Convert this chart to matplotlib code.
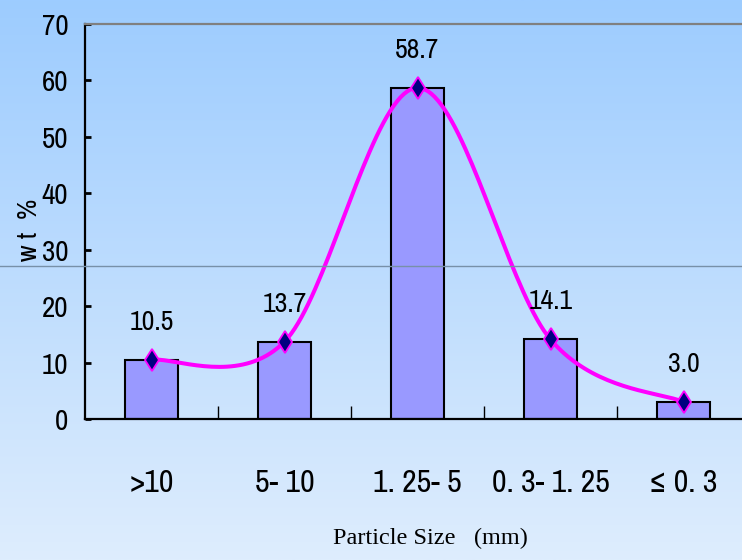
import numpy as np
import matplotlib
matplotlib.use("Agg")
import matplotlib.pyplot as plt
from matplotlib.lines import Line2D

# Particle size distribution
categories = [">10", "5- 10", "1. 25- 5", "0. 3- 1. 25", "\u2264 0. 3"]
wt_percent = [10.5, 13.7, 58.7, 14.1, 3.0]
y_ticks = [0, 10, 20, 30, 40, 50, 60, 70]

NARROW = ["Archivo Narrow", "PT Sans Narrow", "DejaVu Sans"]
SERIF = ["Liberation Serif", "DejaVu Serif"]


def catmull_rom(xs, ys, n=40):
    """Smooth curve through the given points (cubic Bezier, Catmull-Rom tangents)."""
    pts = np.column_stack([xs, ys]).astype(float)
    out = []
    for i in range(len(pts) - 1):
        p0 = pts[i - 1] if i > 0 else pts[i]
        p1 = pts[i]
        p2 = pts[i + 1]
        p3 = pts[i + 2] if i + 2 < len(pts) else pts[i + 1]
        b1 = p1 + (p2 - p0) / 6.0
        b2 = p2 - (p3 - p1) / 6.0
        t = np.linspace(0, 1, n)[:, None]
        seg = ((1 - t) ** 3) * p1 + 3 * ((1 - t) ** 2) * t * b1 + 3 * (1 - t) * t ** 2 * b2 + t ** 3 * p2
        out.append(seg if i == 0 else seg[1:])
    out = np.vstack(out)
    return out[:, 0], out[:, 1]


fig = plt.figure(figsize=(7.42, 5.60), dpi=100)

# vertical gradient background
grad = np.linspace(0, 1, 256)[:, None]
top = np.array([157, 204, 255]) / 255.0
bot = np.array([222, 237, 253]) / 255.0
img = top[None, None, :] * (1 - grad[:, :, None]) + bot[None, None, :] * grad[:, :, None]
bg = fig.add_axes([0, 0, 1, 1])
bg.imshow(img, aspect="auto", extent=[0, 1, 0, 1], origin="upper")
bg.set_axis_off()

# thin horizontal rule across the whole figure
fig.add_artist(Line2D([0, 1], [1 - 265.5 / 560, 1 - 265.5 / 560], transform=fig.transFigure,
                      color="#7890a8", lw=1.0, zorder=5))

ax = fig.add_axes([85 / 742, 1 - 419 / 560, 665 / 742, 395 / 560])
ax.patch.set_alpha(0)

x = np.arange(len(categories))
ax.bar(x, wt_percent, width=0.4, color="#9999ff", edgecolor="black", linewidth=1.5, zorder=2)

cx, cy = catmull_rom(x, wt_percent)
ax.plot(cx, cy, color="#ff00ff", lw=2.9, zorder=3, solid_capstyle="round")
ax.plot(x, wt_percent, linestyle="none", marker="d", markersize=11.5,
        markerfacecolor="#000080", markeredgecolor="#ff00ff", markeredgewidth=1.3, zorder=4)

for xi, v in zip(x, wt_percent):
    ax.annotate(f"{v:.1f}", (xi, v), xytext=(0, 27), textcoords="offset points",
                ha="center", va="center", fontsize=20, family=NARROW, zorder=5)

ax.set_xlim(-0.5, 4.5)
ax.set_ylim(0, 70)
ax.set_yticks(y_ticks)
ax.set_yticklabels([str(t) for t in y_ticks], family=NARROW, fontsize=21)

# category ticks sit on the boundaries, labels at the centers
ax.set_xticks(np.arange(0.5, 4.5, 1.0))
ax.set_xticklabels([])
ax.set_xticks(x, minor=True)
ax.set_xticklabels(categories, minor=True, family=NARROW, fontsize=23)
ax.tick_params(axis="x", which="major", direction="in", length=9.5, width=1.0, color="black")
ax.tick_params(axis="x", which="minor", length=0, pad=36)
ax.tick_params(axis="y", direction="in", length=4.5, width=2.0, pad=12)

for side in ("left", "bottom"):
    ax.spines[side].set_linewidth(1.6)
    ax.spines[side].set_color("black")
ax.spines["top"].set_color("#808080")
ax.spines["top"].set_linewidth(1.6)
ax.spines["right"].set_visible(False)

fig.text(430 / 742, 1 - 538 / 560, "Particle Size   (mm)", ha="center", va="center",
         family=SERIF, fontsize=17.5)
fig.text(30 / 742, 1 - 230 / 560, "w t  %", ha="center", va="center", rotation=90,
         family=NARROW, fontsize=20)

fig.savefig("out.png", dpi=100)
